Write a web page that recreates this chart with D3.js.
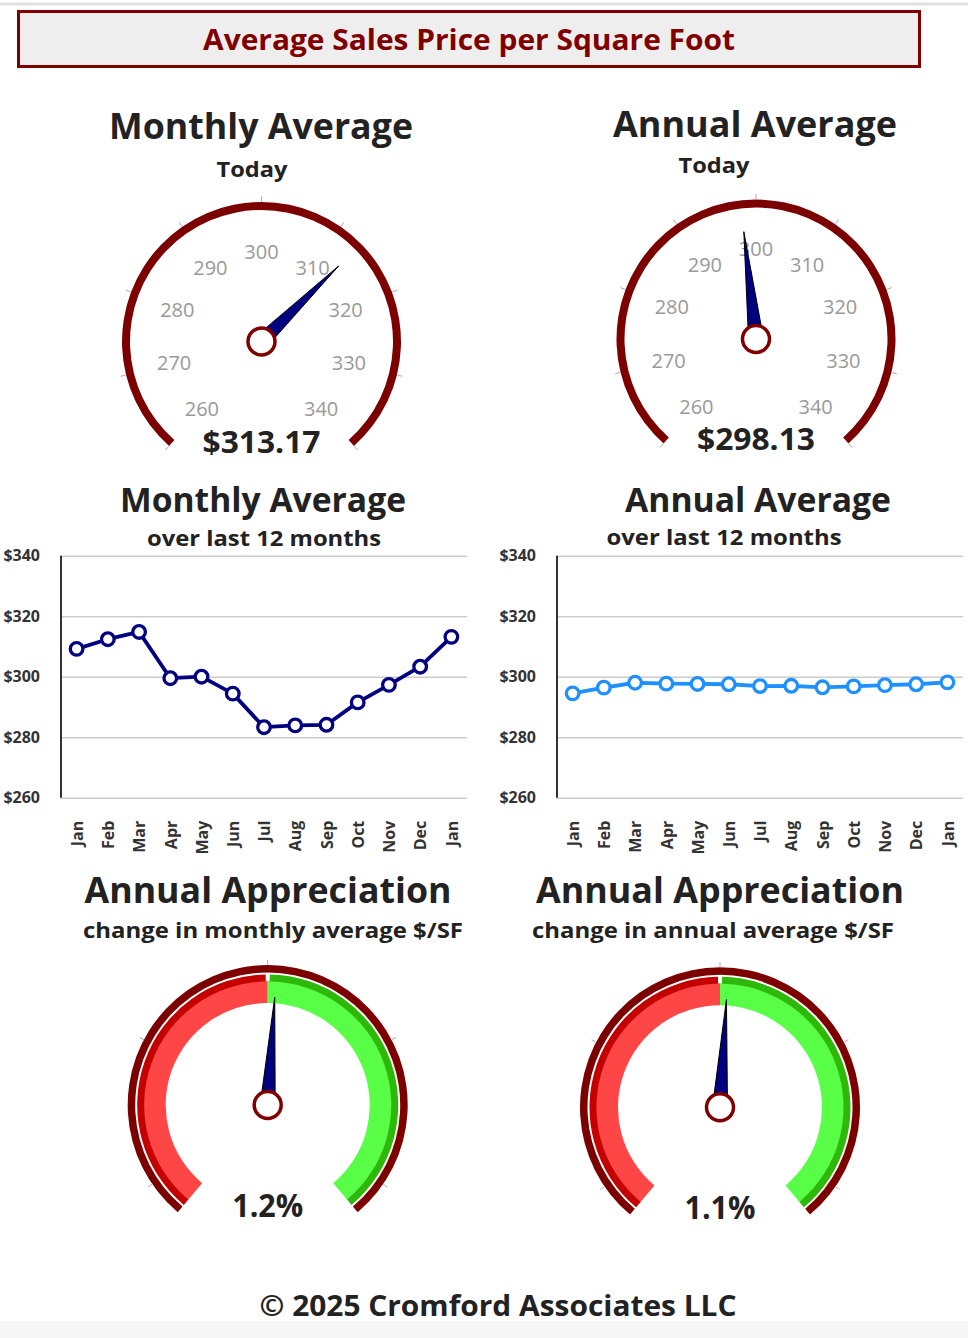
<!DOCTYPE html>
<html>
<head>
<meta charset="utf-8">
<script src="https://cdn.jsdelivr.net/npm/d3@7/dist/d3.min.js"></script>
<style>
  body { margin: 0; background: #fff; }
  svg text { font-family: "Open Sans", "DejaVu Sans", sans-serif; }
  .bold { font-weight: 700; fill: #222; text-anchor: middle; }
  .axis text { font-weight: 700; fill: #333; font-size: 16px; }
  .axis .domain { display: none; }
</style>
</head>
<body>
<div id="chart"></div>
<script>
// months on the two line charts (13 points, Jan to Jan)
var months = ["Jan", "Feb", "Mar", "Apr", "May", "Jun", "Jul", "Aug", "Sep", "Oct", "Nov", "Dec", "Jan"];
var monthlyAvg = [309.2, 312.4, 314.8, 299.5, 300.0, 294.4, 283.3, 283.9, 284.1, 291.5, 297.3, 303.3, 313.17];
var annualAvg = [294.5, 296.4, 298.0, 297.7, 297.6, 297.5, 296.9, 297.0, 296.5, 296.8, 297.2, 297.5, 298.13];
var priceTicks = [260, 280, 300, 320, 340];

// gauges
var gaugeLabels = [260, 270, 280, 290, 300, 310, 320, 330, 340];
var monthlyToday = 313.17;
var annualToday = 298.13;
var apprTicks = [-40, -20, 0, 20, 40];
var monthlyAppr = 1.2;
var annualAppr = 1.1;

var w = 968, h = 1338;
var svg = d3.select("#chart").append("svg")
  .attr("width", w)
  .attr("height", h);

var rad = function(deg) { return deg * Math.PI / 180; };

function label(str, x, y, size, width, color) {
  var t = svg.append("text")
    .attr("class", "bold")
    .attr("x", x)
    .attr("y", y)
    .style("font-size", size + "px")
    .text(str);
  if (width) t.attr("textLength", width).attr("lengthAdjust", "spacingAndGlyphs");
  if (color) t.style("fill", color);
  return t;
}

// page furniture
svg.append("line")
  .attr("x1", 0).attr("x2", w).attr("y1", 4).attr("y2", 4)
  .attr("stroke", "#e2e2e2").attr("stroke-width", 3);
svg.append("rect")
  .attr("x", 0).attr("y", 1321).attr("width", w).attr("height", h - 1321)
  .attr("fill", "#f7f7f7");

svg.append("rect")
  .attr("x", 18.5).attr("y", 11.5).attr("width", 901).attr("height", 55)
  .attr("fill", "#eeeeee").attr("stroke", "#800000").attr("stroke-width", 3);
label("Average Sales Price per Square Foot", 469, 50, 29, 532, "#800000");

// ---------- price gauges ----------
function needle(g, angle, len) {
  var a = rad(angle);
  var pts = [
    [-7.5 * Math.cos(a), -7.5 * Math.sin(a)],
    [len * Math.sin(a), -len * Math.cos(a)],
    [7.5 * Math.cos(a), 7.5 * Math.sin(a)]
  ];
  g.append("path")
    .attr("d", d3.line()(pts) + "Z")
    .attr("fill", "#000080")
    .attr("stroke", "#000")
    .attr("stroke-width", 1);
  g.append("circle")
    .attr("r", 13.5)
    .attr("fill", "#fff")
    .attr("stroke", "#800000")
    .attr("stroke-width", 3.5);
}

function ticksOut(g, ticks, scale) {
  g.selectAll("line.tk")
    .data(ticks)
    .enter()
    .append("line")
    .attr("class", "tk")
    .attr("x1", function(d) { return 140 * Math.sin(rad(scale(d))); })
    .attr("y1", function(d) { return -140 * Math.cos(rad(scale(d))); })
    .attr("x2", function(d) { return 145 * Math.sin(rad(scale(d))); })
    .attr("y2", function(d) { return -145 * Math.cos(rad(scale(d))); })
    .attr("stroke", "#aaa")
    .attr("stroke-width", 1);
}

function priceGauge(cx, cy, value, text) {
  var angle = d3.scaleLinear().domain([260, 340]).range([-138.5, 138.5]);
  var g = svg.append("g").attr("transform", "translate(" + cx + "," + cy + ")");

  g.append("path")
    .attr("d", d3.arc()({ innerRadius: 131.5, outerRadius: 139.5, startAngle: rad(angle(260)), endAngle: rad(angle(340)) }))
    .attr("fill", "#7d0000");
  ticksOut(g, gaugeLabels, angle);

  g.selectAll("text.lbl")
    .data(gaugeLabels)
    .enter()
    .append("text")
    .attr("class", "lbl")
    .attr("x", function(d) { return 90 * Math.sin(rad(angle(d))); })
    .attr("y", function(d) { return -90 * Math.cos(rad(angle(d))); })
    .attr("dy", "0.36em")
    .attr("text-anchor", "middle")
    .style("font-size", "20px")
    .style("fill", "#999")
    .text(function(d) { return d; });

  needle(g, angle(value), 108);

  g.append("text")
    .attr("class", "bold")
    .attr("y", 111)
    .style("font-size", "31px")
    .attr("textLength", 118)
    .attr("lengthAdjust", "spacingAndGlyphs")
    .text(text);
}

label("Monthly Average", 261, 139, 36, 304);
label("Today", 252, 177, 22, 71);
priceGauge(261.5, 341.5, monthlyToday, "$" + monthlyToday.toFixed(2));

label("Annual Average", 755, 137, 36, 284);
label("Today", 714, 173, 22, 71);
priceGauge(756, 339, annualToday, "$" + annualToday.toFixed(2));

// ---------- line charts ----------
function lineChart(x0, x1, data, color) {
  var xScale = d3.scalePoint()
    .domain(d3.range(months.length))
    .range([x0, x1])
    .padding(0.5);
  var yScale = d3.scaleLinear()
    .domain([260, 340])
    .range([797.7, 555.7]);

  var yAxis = d3.axisLeft(yScale)
    .tickValues(priceTicks)
    .tickSize(-(x1 - x0))
    .tickPadding(21)
    .tickFormat(function(d) { return "$" + d; });

  var ya = svg.append("g")
    .attr("class", "axis")
    .attr("transform", "translate(" + x0 + ",0)")
    .call(yAxis);
  ya.selectAll(".tick line").attr("stroke", "#cccccc").attr("stroke-width", 1.5);

  svg.append("line")
    .attr("x1", x0).attr("x2", x0)
    .attr("y1", yScale(340)).attr("y2", yScale(260))
    .attr("stroke", "#333").attr("stroke-width", 2);

  var xAxis = d3.axisBottom(xScale)
    .tickSize(0)
    .tickFormat(function(i) { return months[i]; });
  var xa = svg.append("g")
    .attr("class", "axis")
    .attr("transform", "translate(0," + yScale(260) + ")")
    .call(xAxis);
  xa.selectAll("text")
    .attr("transform", "rotate(-90)")
    .attr("x", -23)
    .attr("y", 0)
    .attr("dy", "0.36em")
    .attr("text-anchor", "end");

  var line = d3.line()
    .x(function(d, i) { return xScale(i); })
    .y(function(d) { return yScale(d); });

  svg.append("path")
    .datum(data)
    .attr("d", line)
    .attr("fill", "none")
    .attr("stroke", color)
    .attr("stroke-width", 3.8)
    .attr("stroke-linejoin", "round");

  svg.selectAll(null)
    .data(data)
    .enter()
    .append("circle")
    .attr("cx", function(d, i) { return xScale(i); })
    .attr("cy", function(d) { return yScale(d); })
    .attr("r", 6.3)
    .attr("fill", "#fff")
    .attr("stroke", color)
    .attr("stroke-width", 3.3);
}

label("Monthly Average", 263, 512, 34, 286);
label("over last 12 months", 264, 546, 22, 234);
lineChart(61, 467, monthlyAvg, "#000080");

label("Annual Average", 758, 512, 34, 266);
label("over last 12 months", 724, 545, 22, 235);
lineChart(557, 963, annualAvg, "#1e90ff");

// ---------- appreciation gauges ----------
function apprGauge(cx, cy, value) {
  var angle = d3.scaleLinear().domain([-45, 45]).range([-140, 140]);
  var g = svg.append("g").attr("transform", "translate(" + cx + "," + cy + ")");
  var arc = d3.arc();

  g.append("path")
    .attr("d", arc({ innerRadius: 132.5, outerRadius: 140, startAngle: rad(angle(-45)), endAngle: rad(angle(45)) }))
    .attr("fill", "#7d0000");
  ticksOut(g, apprTicks, angle);

  // negative side
  g.append("path")
    .attr("d", arc({ innerRadius: 102, outerRadius: 124, startAngle: rad(angle(-45)), endAngle: 0 }))
    .attr("fill", "#ff4646");
  g.append("path")
    .attr("d", arc({ innerRadius: 123.5, outerRadius: 130.5, startAngle: rad(angle(-45)), endAngle: rad(-0.9) }))
    .attr("fill", "#c40000");
  // positive side
  g.append("path")
    .attr("d", arc({ innerRadius: 102, outerRadius: 124, startAngle: 0, endAngle: rad(angle(45)) }))
    .attr("fill", "#58ff46");
  g.append("path")
    .attr("d", arc({ innerRadius: 123.5, outerRadius: 130.5, startAngle: rad(0.9), endAngle: rad(angle(45)) }))
    .attr("fill", "#2db80a");

  needle(g, angle(value), 108);

  g.append("text")
    .attr("class", "bold")
    .attr("y", 112)
    .style("font-size", "32px")
    .attr("textLength", 71)
    .attr("lengthAdjust", "spacingAndGlyphs")
    .text(value.toFixed(1) + "%");
}

label("Annual Appreciation", 268, 903, 36, 367);
label("change in monthly average $/SF", 273, 938, 22, 380);
apprGauge(267.7, 1105, monthlyAppr);

label("Annual Appreciation", 720, 903, 36, 368);
label("change in annual average $/SF", 713, 938, 22, 362);
apprGauge(720, 1107.3, annualAppr);

label("\u00a9 2025 Cromford Associates LLC", 498, 1316, 29, 477);
</script>
</body>
</html>
